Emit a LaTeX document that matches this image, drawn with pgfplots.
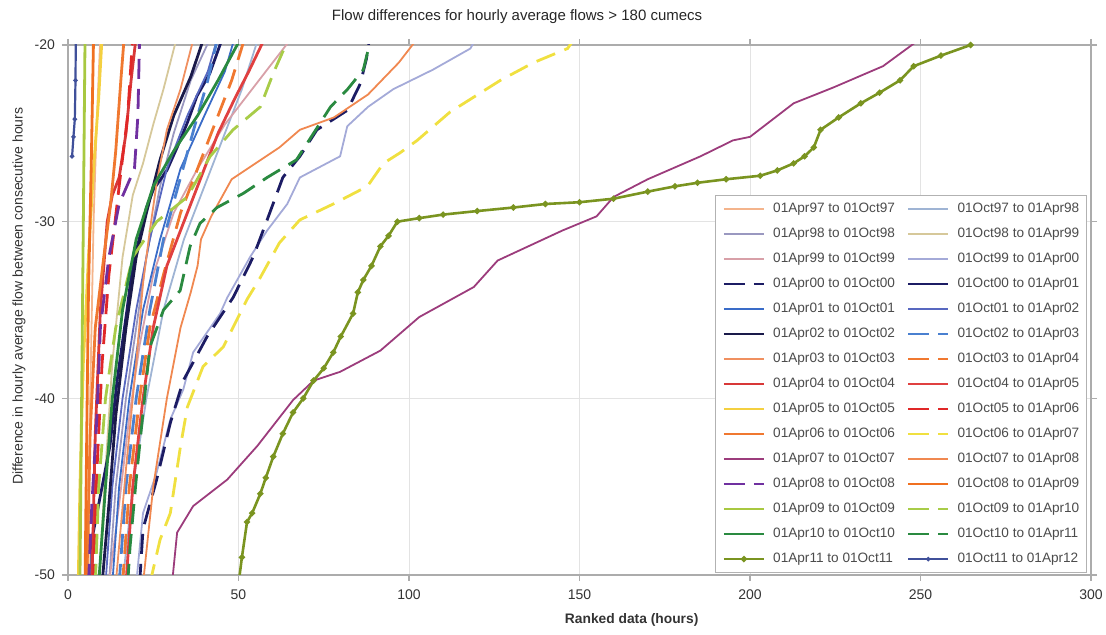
\documentclass[border=0pt]{standalone}
\usepackage{pgfplots}
\pgfplotsset{compat=1.18}
\usepackage{fontspec}
\setmainfont{Liberation Sans}

% series colours
\definecolor{cAa}{HTML}{F4B48C}% 01Apr97
\definecolor{cAb}{HTML}{9FB4D4}% 01Oct97
\definecolor{cAc}{HTML}{9A98C0}% 01Apr98
\definecolor{cAd}{HTML}{D6C89A}% 01Oct98
\definecolor{cAe}{HTML}{D8A0A8}% 01Apr99
\definecolor{cAf}{HTML}{A4AAD8}% 01Oct99
\definecolor{cNavy}{HTML}{1C1C64}
\definecolor{cBlue}{HTML}{3A6CC8}
\definecolor{cBluePurple}{HTML}{5868C0}
\definecolor{cDarkNavy}{HTML}{1A1A4A}
\definecolor{cBlueDash}{HTML}{4A80D0}
\definecolor{cOrangeLight}{HTML}{F09060}
\definecolor{cOrange}{HTML}{F07830}
\definecolor{cRed}{HTML}{D83838}
\definecolor{cRedB}{HTML}{E04040}
\definecolor{cYellow}{HTML}{F4D040}
\definecolor{cRedDash}{HTML}{E02828}
\definecolor{cYellowDash}{HTML}{F0E040}
\definecolor{cPurple}{HTML}{9C3C7C}
\definecolor{cOrangeB}{HTML}{F08850}
\definecolor{cPurpleDash}{HTML}{7030A0}
\definecolor{cOrangeThick}{HTML}{F07020}
\definecolor{cYG}{HTML}{A8C840}
\definecolor{cYGDash}{HTML}{A8CC48}
\definecolor{cGreen}{HTML}{2A8A40}
\definecolor{cOlive}{HTML}{7A9420}
\definecolor{cShort}{HTML}{40509A}

\pgfplotsset{
  thinline/.style={line width=0.9pt},
  thickline/.style={line width=1.4pt},
  dashline/.style={line width=1.4pt, dash pattern=on 10pt off 5pt},
}

\begin{document}
\begin{tikzpicture}
\useasboundingbox (-34pt,-30pt) rectangle (519pt,287.5pt);
\begin{axis}[
  at={(0,0)}, anchor=south west,
  scale only axis, width=511.5pt, height=265pt,
  xmin=0, xmax=300, ymin=-50, ymax=-20,
  xtick={0,50,...,300}, ytick={-50,-40,-30,-20},
  grid=major, grid style={gray!22, line width=0.5pt},
  axis line style={gray!65, line width=0.8pt},
  tick style={gray!65, line width=0.6pt}, tick align=outside, major tick length=3pt,
  /pgf/number format/assume math mode=true,
  ticklabel style={font=\fontsize{7}{8}\selectfont, text=black!80},
  xticklabel style={yshift=-1pt},
  title={Flow differences for hourly average flows > 180 cumecs},
  title style={at={(axis description cs:0.439,1)}, anchor=center, yshift=8pt,
    font=\fontsize{7.5}{9}\selectfont, text=black!85},
  xlabel={Ranked data (hours)},
  xlabel style={at={(axis description cs:0.551,0)}, anchor=center, yshift=-22.5pt,
    font=\bfseries\fontsize{6.9}{8}\selectfont, text=black!80},
  ylabel={Difference in hourly average flow between consecutive hours},
  ylabel style={at={(axis description cs:-0.0479,0.526)}, anchor=center,
    font=\fontsize{7}{8}\selectfont, text=black!80},
  legend columns=2,
  legend cell align=left,
  legend image code/.code={\draw[mark repeat=2,mark phase=2]
    plot coordinates {(0cm,0cm) (0.35cm,0cm) (0.7cm,0cm)};},
  legend style={at={(0.996,0.717)}, anchor=north east,
    draw=gray!60, line width=0.6pt, fill=white,
    font=\fontsize{6.8}{8}\selectfont, text=black!70,
    inner sep=3.5pt, row sep=6pt,
    nodes={inner sep=0pt, text height=5pt, text depth=1.5pt},
    /tikz/every odd column/.append style={column sep=4pt},
    /tikz/every even column/.append style={column sep=6pt}},
]

% 01Apr97 to 01Oct97
\addplot[cAa, thinline] coordinates {(6,-50.5) (6.5,-40) (7.5,-30) (8.5,-24) (9.5,-19.5)};
\addlegendentry{01Apr97 to 01Oct97}
% 01Oct97 to 01Apr98
\addplot[cAb, thinline] coordinates {(16,-50.5) (19,-45) (23,-40) (28,-35) (34,-31) (40,-28) (46,-25) (51,-22.5) (56,-19.5)};
\addlegendentry{01Oct97 to 01Apr98}
% 01Apr98 to 01Oct98
\addplot[cAc, thinline] coordinates {(12,-50.5) (14,-45) (17,-40) (20,-36) (23,-32) (27,-28) (31,-25) (36,-22) (42,-19.5)};
\addlegendentry{01Apr98 to 01Oct98}
% 01Oct98 to 01Apr99
\addplot[cAd, thinline] coordinates {(9,-50.5) (11,-44) (13,-38) (16,-32) (19,-28.5) (22,-26.7) (25,-24.5) (28,-22.5) (32,-19.5)};
\addlegendentry{01Oct98 to 01Apr99}
% 01Apr99 to 01Oct99
\addplot[cAe, thinline] coordinates {(12,-50.5) (15,-46) (18,-41) (21,-37) (25,-33) (31,-29.5) (38,-27) (46,-24.5) (54,-22.5) (60,-21) (66,-19.5)};
\addlegendentry{01Apr99 to 01Oct99}
% 01Oct99 to 01Apr00
\addplot[cAf, thinline] coordinates {(20,-50.5) (22,-46.5) (26,-44.2) (30,-41.2) (33.8,-39.5) (36.7,-37.4) (44.6,-35.2) (46.7,-34.3) (53.4,-32) (58.4,-30.5) (64.3,-29) (68,-27.5) (79.8,-26.3) (81.9,-24.6) (88,-23.5) (95.4,-22.5) (107,-21.4) (118,-20.2) (120,-19.5)};
\addlegendentry{01Oct99 to 01Apr00}
% 01Apr00 to 01Oct00
\addplot[cNavy, dashline] coordinates {(21,-50.5) (22,-47.4) (26,-44.6) (30,-41.4) (33.8,-39) (40.8,-36.5) (48.4,-34.3) (54.3,-32) (58.4,-29.9) (63,-27.5) (68,-26.3) (73,-24.8) (81.9,-23.7) (85.7,-22.2) (87.5,-20.8) (88.5,-19.5)};
\addlegendentry{01Apr00 to 01Oct00}
% 01Oct00 to 01Apr01
\addplot[cNavy, thickline] coordinates {(7,-50.5) (7,-48) (9.4,-45.6) (12.3,-42.7) (14.4,-39) (17.3,-35) (19,-32.4) (21,-30.9) (23,-29.2) (25,-28.2) (29,-27.1) (32,-25.8) (35,-24.4) (37.8,-22.9) (41.6,-21.6) (45.5,-19.5)};
\addlegendentry{01Oct00 to 01Apr01}
% 01Apr01 to 01Oct01
\addplot[cBlue, thinline] coordinates {(13,-50.5) (15,-45) (18,-40) (22,-35) (27,-31) (33,-27) (40,-24) (46,-21.5) (49,-19.5)};
\addlegendentry{01Apr01 to 01Oct01}
% 01Oct01 to 01Apr02
\addplot[cBluePurple, thinline] coordinates {(11,-50.5) (13,-45) (16,-40) (20,-35) (24,-31) (29,-27) (35,-24) (41,-21.5) (44,-19.5)};
\addlegendentry{01Oct01 to 01Apr02}
% 01Apr02 to 01Oct02
\addplot[cDarkNavy, thickline] coordinates {(10,-50.5) (12,-46) (14,-41) (17,-36) (20,-32) (23,-29.5) (27,-26.5) (31,-24) (36,-21.8) (40,-19.5)};
\addlegendentry{01Apr02 to 01Oct02}
% 01Oct02 to 01Apr03
\addplot[cBlueDash, dashline] coordinates {(15,-50.5) (17,-45) (20,-40) (24,-35) (28,-31) (33,-27.5) (38,-24) (41,-22) (44,-19.5)};
\addlegendentry{01Oct02 to 01Apr03}
% 01Apr03 to 01Oct03
\addplot[cOrangeLight, thinline] coordinates {(14,-50.5) (17,-44) (20,-38) (22,-33.5) (24,-30.5) (26,-27.8) (29,-24.8) (33,-22.5) (37,-19.5)};
\addlegendentry{01Apr03 to 01Oct03}
% 01Oct03 to 01Apr04
\addplot[cOrange, dashline] coordinates {(16,-50.5) (18,-45) (21,-40) (24,-36) (28,-33) (33,-29.5) (38,-27) (44,-24) (48,-22) (52,-19.5)};
\addlegendentry{01Oct03 to 01Apr04}
% 01Apr04 to 01Oct04
\addplot[cRed, thickline] coordinates {(7,-50.5) (8,-42) (9.5,-35) (11.5,-30) (13,-28.5) (15,-27.5) (17,-25) (18.5,-22) (20,-19.5)};
\addlegendentry{01Apr04 to 01Oct04}
% 01Oct04 to 01Apr05
\addplot[cRedB, thickline] coordinates {(17,-50.5) (19,-45) (22,-40) (25,-36) (29,-32.5) (34,-30) (39,-27.5) (44,-25) (49,-23) (53,-21.5) (58,-19.5)};
\addlegendentry{01Oct04 to 01Apr05}
% 01Apr05 to 01Oct05
\addplot[cYellow, thickline] coordinates {(3,-50.5) (3.5,-45) (4.5,-38) (6,-32) (7.5,-27) (9,-23) (10,-19.5)};
\addlegendentry{01Apr05 to 01Oct05}
% 01Oct05 to 01Apr06
\addplot[cRedDash, dashline] coordinates {(7.5,-50.5) (8.5,-44) (10,-38) (12,-33) (15,-28) (17.5,-24) (19,-19.5)};
\addlegendentry{01Oct05 to 01Apr06}
% 01Apr06 to 01Oct06
\addplot[cOrange, thickline] coordinates {(5.5,-50.5) (6.5,-42) (8,-36) (10.5,-32) (12.5,-29) (14,-26) (15.5,-22) (16.5,-19.5)};
\addlegendentry{01Apr06 to 01Oct06}
% 01Oct06 to 01Apr07
\addplot[cYellowDash, dashline] coordinates {(24,-50.5) (27,-48) (30,-46.5) (33,-42.7) (35,-40.5) (39.6,-38.2) (45.5,-37.1) (52.5,-34.4) (56,-33.3) (62,-31.2) (68,-29.9) (77.8,-29) (87.8,-28) (92.5,-26.7) (97.4,-26.1) (102.4,-25.4) (112,-23.8) (126.8,-22) (136.5,-21) (146.5,-20.2) (149,-19.5)};
\addlegendentry{01Oct06 to 01Apr07}
% 01Apr07 to 01Oct07
\addplot[cPurple, thinline] coordinates {(30.5,-50.5) (32,-47.6) (36.7,-46.1) (46.7,-44.6) (55.5,-42.7) (66,-40.1) (72,-39) (79.8,-38.5) (91.6,-37.3) (103,-35.4) (119,-33.7) (126,-32.2) (145,-30.5) (155,-29.7) (160,-28.6) (170,-27.6) (185.5,-26.3) (195,-25.4) (200,-25.2) (212.8,-23.3) (224.5,-22.4) (239,-21.2) (251,-19.5)};
\addlegendentry{01Apr07 to 01Oct07}
% 01Oct07 to 01Apr08
\addplot[cOrangeB, thinline] coordinates {(22,-50.5) (25,-45) (29,-40) (33,-36) (36,-34) (38,-32.5) (39,-31) (42,-29.7) (48,-27.6) (55,-26.7) (62,-25.8) (68,-24.8) (78,-24.1) (88,-22.8) (97,-21) (103,-19.5)};
\addlegendentry{01Oct07 to 01Apr08}
% 01Apr08 to 01Oct08
\addplot[cPurpleDash, dashline] coordinates {(6,-50.5) (7,-46) (8.5,-41) (9.5,-36) (12,-32) (15,-29) (19.5,-27) (20.5,-24) (21,-19.5)};
\addlegendentry{01Apr08 to 01Oct08}
% 01Oct08 to 01Apr09
\addplot[cOrangeThick, thickline] coordinates {(5,-50.5) (5.5,-42) (6,-34) (6.8,-27) (7.5,-19.5)};
\addlegendentry{01Oct08 to 01Apr09}
% 01Apr09 to 01Oct09
\addplot[cYG, thickline] coordinates {(3.5,-50.5) (4,-40) (4.5,-30) (5,-19.5)};
\addlegendentry{01Apr09 to 01Oct09}
% 01Oct09 to 01Apr10
\addplot[cYGDash, dashline] coordinates {(8,-50.5) (9,-45) (11,-40) (14,-36) (19,-32) (26,-30) (35,-28.6) (41.7,-26.3) (48.4,-24.8) (56.4,-23.5) (60.2,-21.6) (65,-19.5)};
\addlegendentry{01Oct09 to 01Apr10}
% 01Apr10 to 01Oct10
\addplot[cGreen, thickline] coordinates {(9,-50.5) (11,-45) (13,-40) (16,-35) (20,-31) (25,-28) (31,-26) (38,-24) (44,-22) (51,-19.5)};
\addlegendentry{01Apr10 to 01Oct10}
% 01Oct10 to 01Apr11
\addplot[cGreen, dashline] coordinates {(17.5,-50.5) (18.2,-48.4) (20,-44.6) (22,-40.8) (24,-37.1) (28,-35) (32.9,-33.9) (35.8,-31.4) (38.7,-30.1) (43.7,-29.2) (51.4,-28.4) (58.4,-27.5) (67,-26.5) (72,-25) (77,-23.5) (82,-22.5) (86.6,-21.4) (89,-19.5)};
\addlegendentry{01Oct10 to 01Apr11}
% 01Apr11 to 01Oct11
\addplot[cOlive, line width=1.3pt, mark=*, mark size=0.8pt] coordinates {(50,-50.5) (51,-49) (52.5,-47) (54,-46.5) (56.4,-45.4) (58,-44.5) (60.2,-43.3) (63,-42) (66,-40.8) (69,-40) (72,-39) (75,-38.3) (77.8,-37.4) (80,-36.5) (83.6,-35.2) (85,-34) (86.6,-33.3) (89,-32.5) (91.6,-31.4) (94,-30.8) (96.6,-30) (103,-29.8) (110,-29.6) (120,-29.4) (130.6,-29.2) (140,-29) (150,-28.9) (160,-28.7) (170,-28.3) (178,-28) (184.6,-27.8) (193,-27.6) (203,-27.4) (208,-27.1) (212.8,-26.7) (216,-26.3) (218.7,-25.8) (220.7,-24.8) (226,-24.1) (232.5,-23.3) (238,-22.7) (244,-22) (248,-21.2) (256,-20.6) (264.7,-20) (266,-19.5)};
\addlegendentry{01Apr11 to 01Oct11}
% 01Oct11 to 01Apr12
\addplot[cShort, line width=1.1pt, mark=*, mark size=0.5pt] coordinates {(1.2,-26.3) (1.6,-25.2) (2,-24.2) (2.2,-22) (2.3,-19.5)};
\addlegendentry{01Oct11 to 01Apr12}

\end{axis}
\end{tikzpicture}
\end{document}
